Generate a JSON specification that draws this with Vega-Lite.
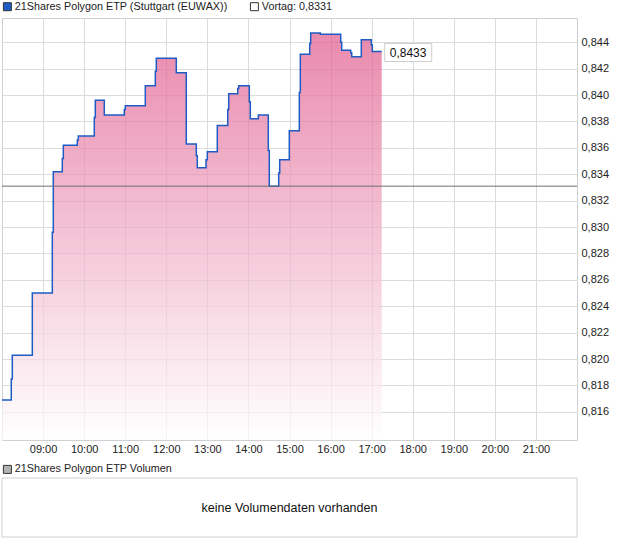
{
  "$schema": "https://vega.github.io/schema/vega-lite/v6.json",
  "padding": {"left": -2, "top": 0, "right": 0, "bottom": 0},
  "background": "white",
  "config": {
    "font": "Liberation Sans",
    "view": {"stroke": "#d0d0d0"},
    "axis": {"labelFont": "Liberation Sans", "labelFontSize": 11, "labelColor": "#222", "gridColor": "#dcdcdc", "domain": false, "ticks": false},
    "legend": {"labelFont": "Liberation Sans", "labelFontSize": 10.8, "labelColor": "#222", "labelLimit": 400}
  },
  "spacing": 9,
  "resolve": {"scale": {"fill": "independent"}, "legend": {"fill": "independent"}},
  "vconcat": [
    {
      "width": 575,
      "height": 422,
      "layer": [
        {
          "data": {"values": [{"s": "21Shares Polygon ETP (Stuttgart (EUWAX))"}, {"s": "Vortag: 0,8331"}]},
          "mark": {"type": "point", "shape": "square", "filled": true, "opacity": 0},
          "encoding": {
            "fill": {
              "field": "s", "type": "nominal",
              "scale": {"domain": ["21Shares Polygon ETP (Stuttgart (EUWAX))", "Vortag: 0,8331"], "range": ["#1f5bc4", "#ffffff"]},
              "legend": {
                "orient": "top", "title": null, "direction": "horizontal", "symbolType": "square", "symbolSize": 64,
                "columnPadding": 20, "offset": 5, "labelOffset": 2,
                "encode": {"symbols": {"update": {"opacity": {"value": 1}, "fillOpacity": {"value": 1}, "stroke": {"value": "#333"}, "strokeWidth": {"value": 1}}}}
              }
            }
          }
        },
        {
          "data": {"values": [
            {"h": 8.000, "v": 0.8169}, {"h": 8.226, "v": 0.8185}, {"h": 8.251, "v": 0.8203}, {"h": 8.738, "v": 0.8250},
            {"h": 9.225, "v": 0.8296}, {"h": 9.249, "v": 0.8342}, {"h": 9.468, "v": 0.8352}, {"h": 9.493, "v": 0.8362},
            {"h": 9.833, "v": 0.8366}, {"h": 9.858, "v": 0.8369}, {"h": 10.247, "v": 0.8383}, {"h": 10.272, "v": 0.8396},
            {"h": 10.491, "v": 0.8385}, {"h": 10.978, "v": 0.8389}, {"h": 11.002, "v": 0.8392}, {"h": 11.489, "v": 0.8407},
            {"h": 11.733, "v": 0.8418}, {"h": 11.757, "v": 0.8428}, {"h": 12.244, "v": 0.8417}, {"h": 12.487, "v": 0.8363},
            {"h": 12.731, "v": 0.8354}, {"h": 12.755, "v": 0.8345}, {"h": 12.967, "v": 0.8351}, {"h": 12.999, "v": 0.8357},
            {"h": 13.242, "v": 0.8377}, {"h": 13.496, "v": 0.8389}, {"h": 13.520, "v": 0.8401}, {"h": 13.739, "v": 0.8405},
            {"h": 13.763, "v": 0.8407}, {"h": 14.021, "v": 0.8395}, {"h": 14.046, "v": 0.8382}, {"h": 14.241, "v": 0.8385},
            {"h": 14.484, "v": 0.8358}, {"h": 14.508, "v": 0.8331}, {"h": 14.737, "v": 0.8341}, {"h": 14.762, "v": 0.8351},
            {"h": 14.995, "v": 0.8373}, {"h": 15.239, "v": 0.8402}, {"h": 15.263, "v": 0.8431}, {"h": 15.492, "v": 0.8439},
            {"h": 15.516, "v": 0.8447}, {"h": 15.750, "v": 0.8446}, {"h": 16.247, "v": 0.8440}, {"h": 16.271, "v": 0.8434},
            {"h": 16.490, "v": 0.8432}, {"h": 16.515, "v": 0.8429}, {"h": 16.748, "v": 0.8442}, {"h": 16.992, "v": 0.8438},
            {"h": 17.016, "v": 0.8433}, {"h": 17.245, "v": 0.8433}
          ]},
          "mark": {
            "type": "area", "interpolate": "step-after",
            "color": {"gradient": "linear", "x1": 0, "y1": 0, "x2": 0, "y2": 1, "stops": [{"offset": 0, "color": "#e0588a"}, {"offset": 1, "color": "#ffffff"}]},
            "line": {"color": "#1f5bc4", "strokeWidth": 1.5, "interpolate": "step-after"}
          },
          "encoding": {
            "x": {
              "field": "h", "type": "quantitative",
              "scale": {"domain": [8, 22], "nice": false, "zero": false},
              "axis": {"title": null, "values": [9, 10, 11, 12, 13, 14, 15, 16, 17, 18, 19, 20, 21], "labelExpr": "(datum.value < 10 ? '0' : '') + datum.value + ':00'", "grid": true, "labelPadding": 3, "labelFlush": false}
            },
            "y": {
              "field": "v", "type": "quantitative",
              "scale": {"domain": [0.81387, 0.84584], "nice": false, "zero": false},
              "axis": {"orient": "right", "title": null, "values": [0.816, 0.818, 0.82, 0.822, 0.824, 0.826, 0.828, 0.83, 0.832, 0.834, 0.836, 0.838, 0.84, 0.842, 0.844], "labelExpr": "replace(format(datum.value, '.3f'), '.', ',')", "grid": true, "labelPadding": 4, "labelOverlap": false}
            },
            "y2": {"datum": 0.81387}
          }
        },
        {
          "data": {"values": [{"v": 0.8331}]},
          "mark": {"type": "rule", "color": "#6e6e6e", "strokeWidth": 1},
          "encoding": {
            "y": {"field": "v", "type": "quantitative",
              "axis": {"orient": "right", "title": null, "values": [0.816, 0.818, 0.82, 0.822, 0.824, 0.826, 0.828, 0.83, 0.832, 0.834, 0.836, 0.838, 0.84, 0.842, 0.844], "labelExpr": "replace(format(datum.value, '.3f'), '.', ',')", "grid": true, "labelPadding": 4, "labelOverlap": false}}
          }
        },
        {
          "data": {"values": [{"h": 17.245, "v": 0.8433, "lbl": "0,8433"}]},
          "mark": {"type": "rect", "fill": "#ffffff", "stroke": "#cfcfcf", "strokeWidth": 1, "xOffset": 3, "x2Offset": 50, "yOffset": -8, "y2Offset": 10},
          "encoding": {
            "x": {"field": "h", "type": "quantitative",
              "axis": {"title": null, "values": [9, 10, 11, 12, 13, 14, 15, 16, 17, 18, 19, 20, 21], "labelExpr": "(datum.value < 10 ? '0' : '') + datum.value + ':00'", "grid": true, "labelPadding": 3, "labelFlush": false}},
            "x2": {"field": "h"},
            "y": {"field": "v", "type": "quantitative",
              "axis": {"orient": "right", "title": null, "values": [0.816, 0.818, 0.82, 0.822, 0.824, 0.826, 0.828, 0.83, 0.832, 0.834, 0.836, 0.838, 0.84, 0.842, 0.844], "labelExpr": "replace(format(datum.value, '.3f'), '.', ',')", "grid": true, "labelPadding": 4, "labelOverlap": false}},
            "y2": {"field": "v"}
          }
        },
        {
          "data": {"values": [{"h": 17.245, "v": 0.8433, "lbl": "0,8433"}]},
          "mark": {"type": "text", "align": "left", "baseline": "middle", "dx": 8, "dy": 1, "fontSize": 12, "color": "#111"},
          "encoding": {
            "x": {"field": "h", "type": "quantitative",
              "axis": {"title": null, "values": [9, 10, 11, 12, 13, 14, 15, 16, 17, 18, 19, 20, 21], "labelExpr": "(datum.value < 10 ? '0' : '') + datum.value + ':00'", "grid": true, "labelPadding": 3, "labelFlush": false}},
            "y": {"field": "v", "type": "quantitative",
              "axis": {"orient": "right", "title": null, "values": [0.816, 0.818, 0.82, 0.822, 0.824, 0.826, 0.828, 0.83, 0.832, 0.834, 0.836, 0.838, 0.84, 0.842, 0.844], "labelExpr": "replace(format(datum.value, '.3f'), '.', ',')", "grid": true, "labelPadding": 4, "labelOverlap": false}},
            "text": {"field": "lbl"}
          }
        }
      ]
    },
    {
      "width": 575,
      "height": 59,
      "layer": [
        {
          "data": {"values": [{"s": "21Shares Polygon ETP Volumen"}]},
          "mark": {"type": "point", "shape": "square", "filled": true, "opacity": 0},
          "encoding": {
            "fill": {
              "field": "s", "type": "nominal",
              "scale": {"domain": ["21Shares Polygon ETP Volumen"], "range": ["#b4b4b4"]},
              "legend": {
                "orient": "top", "title": null, "symbolType": "square", "symbolSize": 64, "offset": 2, "labelOffset": 2,
                "encode": {"symbols": {"update": {"opacity": {"value": 1}, "fillOpacity": {"value": 1}, "stroke": {"value": "#333"}, "strokeWidth": {"value": 1}}}}
              }
            }
          }
        },
        {
          "data": {"values": [{"frame": "panel"}]},
          "mark": {"type": "rect", "fill": "transparent", "stroke": "#d0d0d0", "strokeWidth": 1},
          "encoding": {}
        },
        {
          "data": {"values": [{"msg": "keine Volumendaten vorhanden"}]},
          "mark": {"type": "text", "fontSize": 12.5, "color": "#111", "baseline": "middle", "align": "center"},
          "encoding": {"text": {"field": "msg"}}
        }
      ]
    }
  ]
}
